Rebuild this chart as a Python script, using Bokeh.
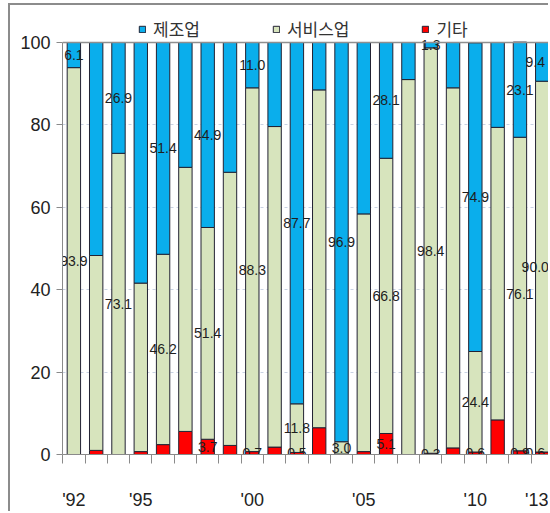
from bokeh.plotting import figure
from bokeh.models import ColumnDataSource, FixedTicker, Legend, LegendItem, Span
from bokeh.core.properties import value
from bokeh.embed import file_html
from bokeh.resources import INLINE

years = list(range(1992, 2014))
manufacturing = [6.1, 51.7, 26.9, 58.4, 51.4, 30.3, 44.9, 31.5, 11.0, 20.4, 87.7,
                 11.5, 96.9, 41.6, 28.1, 9.0, 1.3, 11.0, 74.9, 20.6, 23.1, 9.4]
services = [93.9, 47.3, 73.1, 40.9, 46.2, 64.1, 51.4, 66.3, 88.3, 77.8, 11.8,
            82.0, 3.0, 57.7, 66.8, 91.0, 98.4, 87.4, 24.4, 71.0, 76.1, 90.0]
others = [0.0, 1.0, 0.0, 0.7, 2.4, 5.6, 3.7, 2.2, 0.7, 1.8, 0.5,
          6.5, 0.1, 0.7, 5.1, 0.0, 0.3, 1.6, 0.6, 8.4, 0.9, 0.6]

series_names = ["제조업", "서비스업", "기타"]
labeled_years = [1992, 1994, 1996, 1998, 2000, 2002, 2004, 2006, 2008, 2010, 2012, 2013]
labeled_years_other = [1998, 2000, 2002, 2006, 2008, 2010, 2012, 2013]

tick_years = [1992, 1995, 2000, 2005, 2010, 2013]
tick_labels = ["'92", "'95", "'00", "'05", "'10", "'13"]
y_ticks = [0, 20, 40, 60, 80, 100]

BLUE = "#0AAEEC"
GREEN = "#D7E4BD"
RED = "#FF0000"
OUTLINE = "#222233"
NUM_FONT = "Liberation Sans"

src = ColumnDataSource(dict(year=years, mfg=manufacturing, svc=services, etc=others))

p = figure(width=540, height=508, output_backend="svg", toolbar_location=None,
           x_range=(1991.49, 2013.37), y_range=(0, 108.98),
           min_border_left=52, min_border_right=0, min_border_top=0, min_border_bottom=59)
p.margin = (3, 0, 0, 8)
p.styles = {"border-left": "2px solid #8c8c8c", "border-top": "2px solid #8c8c8c"}
p.outline_line_color = None
p.background_fill_color = "white"
p.border_fill_color = "white"

rs = p.vbar_stack(["etc", "svc", "mfg"], x="year", width=0.6, source=src,
                  fill_color=[RED, GREEN, BLUE], line_color=OUTLINE, line_width=1)

# labels (the last bar's labels are nudged left to stay inside the chart)
lx, ly, lt, ldx = [], [], [], []
def add_label(yr, yv, v):
    lx.append(yr); ly.append(yv); lt.append(f"{v:.1f}")
    ldx.append(-7 if yr == years[-1] else 0)
for yr in labeled_years:
    i = years.index(yr)
    add_label(yr, others[i] + services[i] + manufacturing[i] / 2, manufacturing[i])
    add_label(yr, others[i] + services[i] / 2, services[i])
for yr in labeled_years_other:
    i = years.index(yr)
    add_label(yr, others[i] / 2, others[i])
lsrc = ColumnDataSource(dict(x=lx, y=ly, text=lt, dx=ldx))
p.text(x="x", y="y", text="text", x_offset="dx", source=lsrc,
       text_align="center", text_baseline="middle",
       text_font=value(NUM_FONT), text_font_size="14px", text_color="#1e1e1e")

# axes
p.xgrid.visible = False
p.ygrid.ticker = FixedTicker(ticks=[20, 40, 60, 80])
p.ygrid.grid_line_color = "#c9d2e3"
p.ygrid.grid_line_dash = "3 3"
p.add_layout(Span(location=100, dimension="width", line_color="#8f8f8f", line_width=1.5))

ya = p.yaxis[0]
ya.ticker = FixedTicker(ticks=y_ticks)
ya.axis_line_color = "#8a8a8a"
ya.major_tick_line_color = "#8a8a8a"
ya.major_tick_out = 6
ya.major_tick_in = 0
ya.minor_tick_line_color = None
ya.major_label_text_font = NUM_FONT
ya.major_label_text_font_size = "18px"
ya.major_label_text_color = "#222222"
ya.major_label_standoff = 6
ya.bounds = (0, 100)

xa = p.xaxis[0]
xa.ticker = FixedTicker(ticks=tick_years, minor_ticks=[y - 0.5 for y in years] + [years[-1] + 0.5])
xa.major_label_overrides = {t: l for t, l in zip(tick_years, tick_labels)}
xa.axis_line_color = "#8a8a8a"
xa.major_tick_line_color = None
xa.major_tick_out = 0
xa.major_tick_in = 0
xa.minor_tick_line_color = "#8a8a8a"
xa.minor_tick_out = 9
xa.minor_tick_in = 0
xa.major_label_text_font = NUM_FONT
xa.major_label_text_font_size = "18px"
xa.major_label_text_color = "#222222"
xa.major_label_standoff = 26

legend = Legend(items=[LegendItem(label=series_names[0], renderers=[rs[2]]),
                       LegendItem(label=series_names[1], renderers=[rs[1]]),
                       LegendItem(label=series_names[2], renderers=[rs[0]])],
                orientation="horizontal", location=(76, 413),
                label_text_font="Noto Sans CJK KR", label_text_font_size="17px",
                label_text_color="#333333", glyph_width=8, glyph_height=8,
                label_standoff=7, spacing=72, padding=0, margin=0,
                border_line_alpha=0, background_fill_alpha=0)
p.add_layout(legend, "center")

open("out.html", "w").write(file_html(p, INLINE))
